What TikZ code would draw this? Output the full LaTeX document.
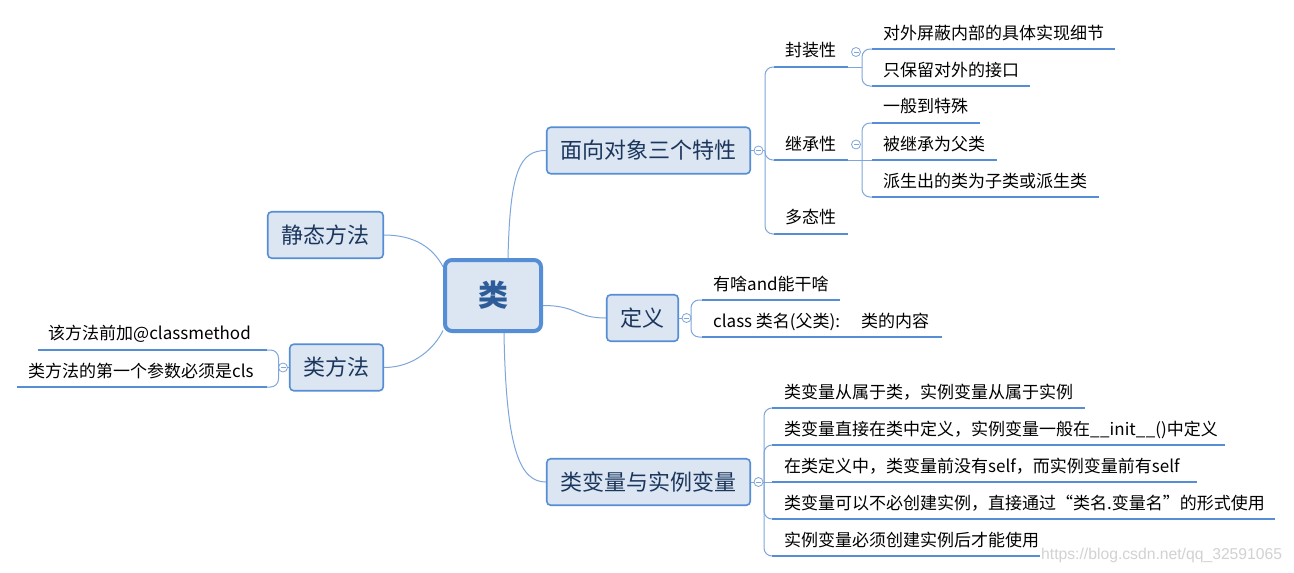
\documentclass[tikz,border=0pt]{standalone}
\usepackage{fontspec}
\setmainfont{Noto Sans CJK SC}
\newfontfamily\wmfont{Liberation Sans}
\definecolor{bordc}{HTML}{558ED5}
\definecolor{fillc}{HTML}{DCE6F2}
\definecolor{linec}{HTML}{7EA6DA}
\definecolor{txtc}{HTML}{1B365D}
\definecolor{roottxt}{HTML}{2E5C99}
\definecolor{wmc}{HTML}{D2D2D2}
\begin{document}
\begin{tikzpicture}[x=1pt,y=-1pt,
 root/.style={draw=bordc, line width=4pt, fill=fillc, rounded corners=7pt, minimum width=96pt, minimum height=71pt, font=\fontsize{30}{32}\selectfont\bfseries, text=roottxt, inner sep=0pt, text height=22.6pt, text depth=0pt},
 topic/.style={draw=bordc, line width=1.6pt, fill=fillc, rounded corners=4pt, minimum height=46.5pt, font=\fontsize{22}{24}\selectfont, text=txtc, inner sep=0pt, text height=16.4pt, text depth=0pt},
 leaf/.style={anchor=west, inner sep=0pt, font=\fontsize{17}{20}\selectfont, text height=12.7pt, text depth=0pt},
 uline/.style={draw=bordc, line width=2.6pt},
 conn/.style={draw=linec, line width=1pt},
 branch/.style={draw=linec, line width=1pt, rounded corners=8pt},
 fold/.style={circle, draw=linec, fill=white, line width=0.8pt, minimum size=9pt, inner sep=0pt,
   path picture={\draw[linec, line width=0.8pt] ([xshift=-2.5pt]path picture bounding box.center) -- ([xshift=2.5pt]path picture bounding box.center);}},
]
\fill[white] (0,0) rectangle (1294,573);
\useasboundingbox (0,0) rectangle (1294,573);

% main nodes
\node[root] (c) at (493,295.5) {类};
\node[topic, minimum width=203.5pt] (oop) at (648.5,150.5) {面向对象三个特性};
\node[topic, minimum width=71.5pt] (def) at (642.5,318) {定义};
\node[topic, minimum width=203.5pt] (var) at (648.5,482) {类变量与实例变量};
\node[topic, minimum width=115.5pt] (stat) at (325.5,235) {静态方法};
\node[topic, minimum width=93.5pt] (cm) at (336.5,367.5) {类方法};

% connectors from root
\draw[conn] ([xshift=15pt]c.north) .. controls (510,170) and (520,150.5) .. (oop.west);
\draw[conn] ([xshift=11pt]c.south) .. controls (506,450) and (520,482) .. (var.west);
\draw[conn] ([yshift=-10pt]c.east) .. controls (578,305.5) and (575,318) .. (def.west);
\draw[conn] (stat.east) .. controls (415,235) and (433,248) .. (c.150);
\draw[conn] (cm.east) .. controls (415,367.5) and (435,347) .. (c.215);

% fold markers
\node[fold] (f1) at (758.5,150.5) {};
\node[fold] (f2) at (686.5,318) {};
\node[fold] (f3) at (758.5,482) {};
\node[fold] (f4) at (283,367.5) {};
\node[fold] (f5) at (856,52) {};
\node[fold] (f6) at (856,144.5) {};

% ---------- 面向对象三个特性 ----------
\coordinate (b1) at (765,150.5);
\draw[conn] (oop.east) -- (f1.west);
\draw[conn] (f1.east) -- (b1);
\coordinate (p1s) at (774,67);  \coordinate (p1e) at (848,67);
\coordinate (p2s) at (774,160); \coordinate (p2e) at (848,160);
\coordinate (p3s) at (774,234); \coordinate (p3e) at (848,234);
\draw[branch] (b1) |- (p1s);
\draw[branch] (b1) |- (p2s);
\draw[branch] (b1) |- (p3s);
\draw[uline] (p1s) -- (p1e);
\draw[uline] (p2s) -- (p2e);
\draw[uline] (p3s) -- (p3e);
\node[leaf] (t1) at (785,50) {封装性};
\node[leaf] (t2) at (785,144) {继承性};
\node[leaf] (t3) at (785,217) {多态性};

% 封装性 children
\coordinate (b5) at (862,67);
\draw[conn] (p1e) -- (b5);
\coordinate (q1s) at (872,49); \coordinate (q1e) at (1115,49);
\coordinate (q2s) at (872,86); \coordinate (q2e) at (1030,86);
\draw[branch] (b5) |- (q1s);
\draw[branch] (b5) |- (q2s);
\draw[uline] (q1s) -- (q1e);
\draw[uline] (q2s) -- (q2e);
\node[leaf] (t11) at (883,33) {对外屏蔽内部的具体实现细节};
\node[leaf] (t12) at (883,70) {只保留对外的接口};

% 继承性 children
\coordinate (b6) at (862,160);
\draw[conn] (p2e) -- (b6);
\coordinate (r1s) at (872,123); \coordinate (r1e) at (980,123);
\coordinate (r2s) at (872,160); \coordinate (r2e) at (997,160);
\coordinate (r3s) at (872,197); \coordinate (r3e) at (1099,197);
\draw[branch] (b6) |- (r1s);
\draw[branch] (b6) -- (r2s);
\draw[branch] (b6) |- (r3s);
\draw[uline] (r1s) -- (r1e);
\draw[uline] (r2s) -- (r2e);
\draw[uline] (r3s) -- (r3e);
\node[leaf] (t21) at (883,106) {一般到特殊};
\node[leaf] (t22) at (883,144) {被继承为父类};
\node[leaf] (t23) at (883,181) {派生出的类为子类或派生类};

% ---------- 定义 ----------
\coordinate (b2) at (691,318);
\draw[conn] (def.east) -- (f2.west);
\coordinate (d1s) at (702,300); \coordinate (d1e) at (840,300);
\coordinate (d2s) at (702,337); \coordinate (d2e) at (942,337);
\draw[branch] (b2) |- (d1s);
\draw[branch] (b2) |- (d2s);
\draw[uline] (d1s) -- (d1e);
\draw[uline] (d2s) -- (d2e);
\node[leaf] (td1) at (713,284) {有啥and能干啥};
\node[leaf] (td2) at (713,321) {class 类名(父类):\hspace{21pt}类的内容};

% ---------- 类变量与实例变量 ----------
\coordinate (b3) at (764,482);
\draw[conn] (var.east) -- (f3.west);
\draw[conn] (f3.east) -- (b3);
\coordinate (v1s) at (772,408); \coordinate (v1e) at (1085,408);
\coordinate (v2s) at (772,445); \coordinate (v2e) at (1225,445);
\coordinate (v3s) at (772,482); \coordinate (v3e) at (1197,482);
\coordinate (v4s) at (772,519); \coordinate (v4e) at (1275,519);
\coordinate (v5s) at (772,556); \coordinate (v5e) at (1040,556);
\draw[branch] (b3) |- (v1s);
\draw[branch] (b3) |- (v2s);
\draw[branch] (b3) -- (v3s);
\draw[branch] (b3) |- (v4s);
\draw[branch] (b3) |- (v5s);
\draw[uline] (v1s) -- (v1e);
\draw[uline] (v2s) -- (v2e);
\draw[uline] (v3s) -- (v3e);
\draw[uline] (v4s) -- (v4e);
\draw[uline] (v5s) -- (v5e);
\node[leaf] (tv1) at (784,392) {类变量从属于类，实例变量从属于实例};
\node[leaf] (tv2) at (784,429) {类变量直接在类中定义，实例变量一般在\_\kern0.5pt\_init\_\kern0.5pt\_()中定义};
\node[leaf] (tv3) at (784,466) {在类定义中，类变量前没有self，而实例变量前有self};
\node[leaf] (tv4) at (784,503) {类变量可以不必创建实例，直接通过“类名.变量名”的形式使用};
\node[leaf] (tv5) at (784,540) {实例变量必须创建实例后才能使用};

% ---------- 类方法 ----------
\coordinate (b4) at (278.5,367.5);
\draw[conn] (cm.west) -- (f4.east);
\coordinate (l1s) at (38,350); \coordinate (l1e) at (267,350);
\coordinate (l2s) at (17,387); \coordinate (l2e) at (267,387);
\draw[branch] (b4) |- (l1e);
\draw[branch] (b4) |- (l2e);
\draw[uline] (l1s) -- (l1e);
\draw[uline] (l2s) -- (l2e);
\node[leaf] (tl1) at (48,333) {该方法前加@classmethod};
\node[leaf] (tl2) at (28,371) {类方法的第一个参数必须是cls};

% watermark
\node[anchor=west, inner sep=0pt, font=\wmfont\fontsize{15.7}{17}\selectfont, text=wmc] (wm) at (1041,555) {https://blog.csdn.net/qq\_32591065};
\end{tikzpicture}
\end{document}
